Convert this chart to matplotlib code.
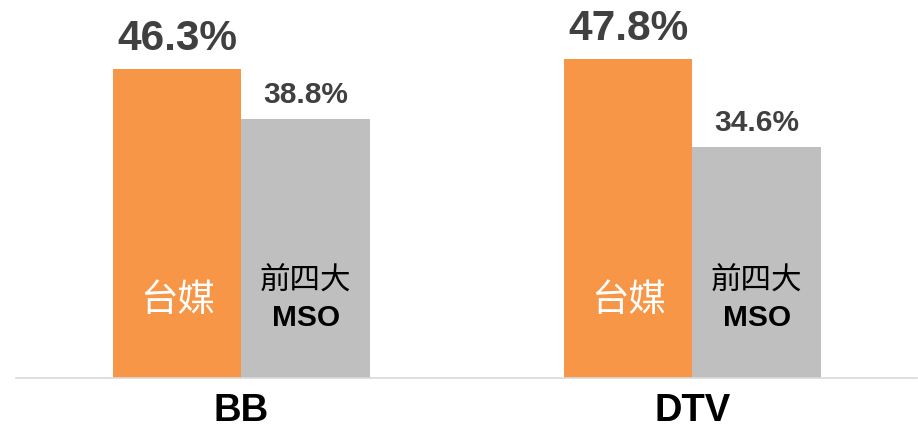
import matplotlib.pyplot as plt
import numpy as np

plt.rcParams['font.family'] = ['Liberation Sans', 'Noto Sans CJK TC', 'DejaVu Sans']

categories = ['BB', 'DTV']
local_vals = [46.3, 47.8]      # 台媒
mso_vals = [38.8, 34.6]        # 前四大 MSO
local_name = '台媒'
mso_name = ['前四大', 'MSO']

orange = '#F79646'
gray = '#BFBFBF'
txt = '#404040'

fig = plt.figure(figsize=(9.18, 4.34), dpi=100)
ax = fig.add_axes([16 / 918, 56 / 434, 901 / 918, 378 / 434])

x = np.arange(len(categories))
w = 0.285
ax.bar(x - w / 2, local_vals, w, color=orange)
ax.bar(x + w / 2, mso_vals, w, color=gray)

ax.set_xlim(-0.5, 1.498)
ax.set_ylim(0, 56.7)

# value labels
for xi, v in zip(x, local_vals):
    ax.annotate(f'{v}%', (xi - w / 2, v), xytext=(0, 14), textcoords='offset points',
                ha='center', va='baseline', fontsize=30.5, fontweight='bold', color=txt)
for xi, v in zip(x, mso_vals):
    ax.annotate(f'{v}%', (xi + w / 2, v), xytext=(0, 12), textcoords='offset points',
                ha='center', va='baseline', fontsize=21.5, fontweight='bold', color=txt)

# series names inside bars
for xi in x:
    ax.text(xi - w / 2, 11.7, local_name, ha='center', va='center',
            fontsize=27, color='white', family=['Noto Sans CJK TC'], fontweight='medium')
    ax.text(xi + w / 2, 14.5, mso_name[0], ha='center', va='center',
            fontsize=22, color='black', family=['Noto Sans CJK TC'])
    ax.text(xi + w / 2, 9.0, mso_name[1], ha='center', va='center',
            fontsize=21.5, color='black', fontweight='bold')

ax.set_xticks(x)
ax.set_xticklabels(categories, fontsize=27.5, fontweight='bold', color='black')
ax.tick_params(axis='x', length=0, pad=11)
ax.set_yticks([])
for s in ['top', 'right', 'left']:
    ax.spines[s].set_visible(False)
ax.spines['bottom'].set_color('#D9D9D9')
ax.spines['bottom'].set_linewidth(1.2)

fig.savefig('out.png', dpi=100)
